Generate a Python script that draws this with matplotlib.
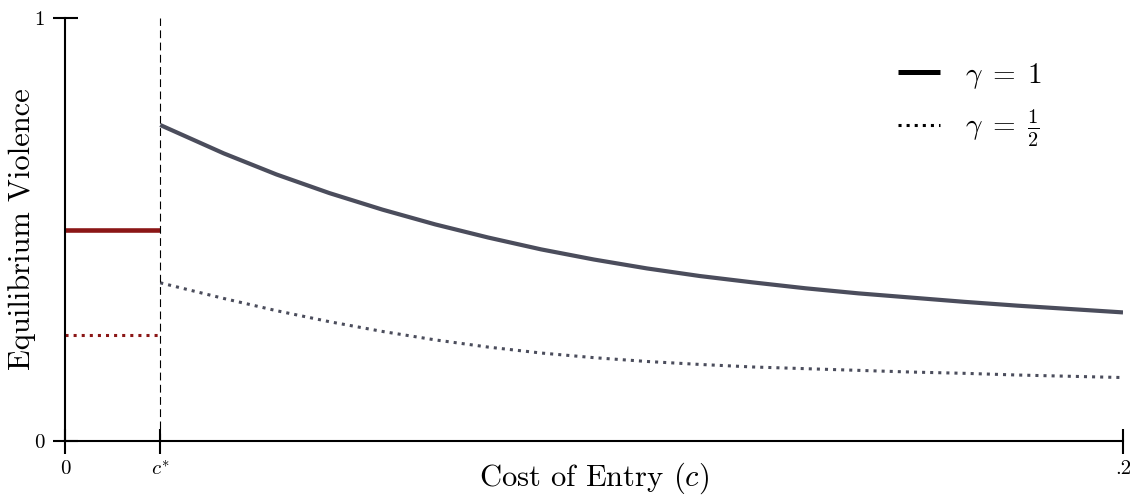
import matplotlib
matplotlib.use("Agg")
import matplotlib.pyplot as plt
from matplotlib.lines import Line2D

plt.rcParams['mathtext.fontset'] = 'cm'
plt.rcParams['font.family'] = ['cmr10', 'DejaVu Serif']
plt.rcParams['axes.unicode_minus'] = False

# threshold cost of entry
c_star = 0.018

# equilibrium violence below c* (flat)
low_c = [0.0, c_star]
low_gamma1 = [0.5, 0.5]
low_gamma_half = [0.25, 0.25]

# equilibrium violence above c*
cost = [0.018, 0.03, 0.04, 0.05, 0.06, 0.07, 0.08, 0.09, 0.10, 0.11,
        0.12, 0.13, 0.14, 0.15, 0.16, 0.17, 0.18, 0.19, 0.20]
violence_gamma1 = [0.747, 0.680, 0.630, 0.586, 0.547, 0.512, 0.481, 0.453,
                   0.429, 0.408, 0.390, 0.375, 0.361, 0.349, 0.339, 0.329,
                   0.320, 0.312, 0.304]
violence_gamma_half = [0.374, 0.337, 0.308, 0.282, 0.259, 0.239, 0.222, 0.208,
                       0.197, 0.188, 0.181, 0.175, 0.171, 0.167, 0.163, 0.160,
                       0.156, 0.153, 0.150]

xtick_pos = [0, c_star, 0.2]
xtick_labels = ['0', '$c^{*}$', '.2']

red = '#8b1616'
gray = '#4b4d5c'

fig = plt.figure(figsize=(11.3, 4.95), dpi=100)
ax = fig.add_axes([65 / 1130, 1 - 441 / 495, (1123 - 65) / 1130, (441 - 18) / 495])

ax.plot(low_c, low_gamma1, color=red, lw=3.3, solid_capstyle='butt')
ax.plot(low_c, low_gamma_half, color=red, lw=2.2, linestyle=':', dash_capstyle='butt')
ax.plot(cost, violence_gamma1, color=gray, lw=3.0, solid_capstyle='butt',
        solid_joinstyle='round')
ax.plot(cost, violence_gamma_half, color=gray, lw=2.2, linestyle=':', dash_capstyle='butt')

ax.axvline(c_star, color='black', lw=0.8, linestyle=(0, (7, 4)))

ax.set_xlim(0, 0.2)
ax.set_ylim(0, 1)
ax.spines['top'].set_visible(False)
ax.spines['right'].set_visible(False)
for s in ['left', 'bottom']:
    ax.spines[s].set_linewidth(1.5)

ax.set_xticks(xtick_pos)
ax.set_xticklabels(xtick_labels)
ax.set_yticks([0, 1])
ax.set_yticklabels(['0', '1'])
ax.tick_params(axis='both', direction='inout', length=18, width=1.5, labelsize=15)
ax.tick_params(axis='x', pad=5)
ax.tick_params(axis='y', pad=6)

ax.set_xlabel('Cost of Entry $(c)$', fontsize=22, va='center')
ax.xaxis.set_label_coords(0.5, (441 - 478) / 423)
ax.set_ylabel('Equilibrium Violence', fontsize=22, va='center')
ax.yaxis.set_label_coords((22 - 65) / 1058, 0.5)

handles = [Line2D([], [], color='black', lw=3.6, solid_capstyle='butt'),
           Line2D([], [], color='black', lw=2.2, linestyle=':', dash_capstyle='butt')]
fig.legend(handles, [r'$\gamma\;=\;1$', r'$\gamma\;=\;\frac{1}{2}$'],
           loc='upper left', bbox_to_anchor=(883 / 1130, 1 - 46 / 495),
           borderpad=0, frameon=False, fontsize=21, handlelength=1.45,
           handletextpad=0.85, labelspacing=0.6)

fig.savefig('out.png', dpi=100)
